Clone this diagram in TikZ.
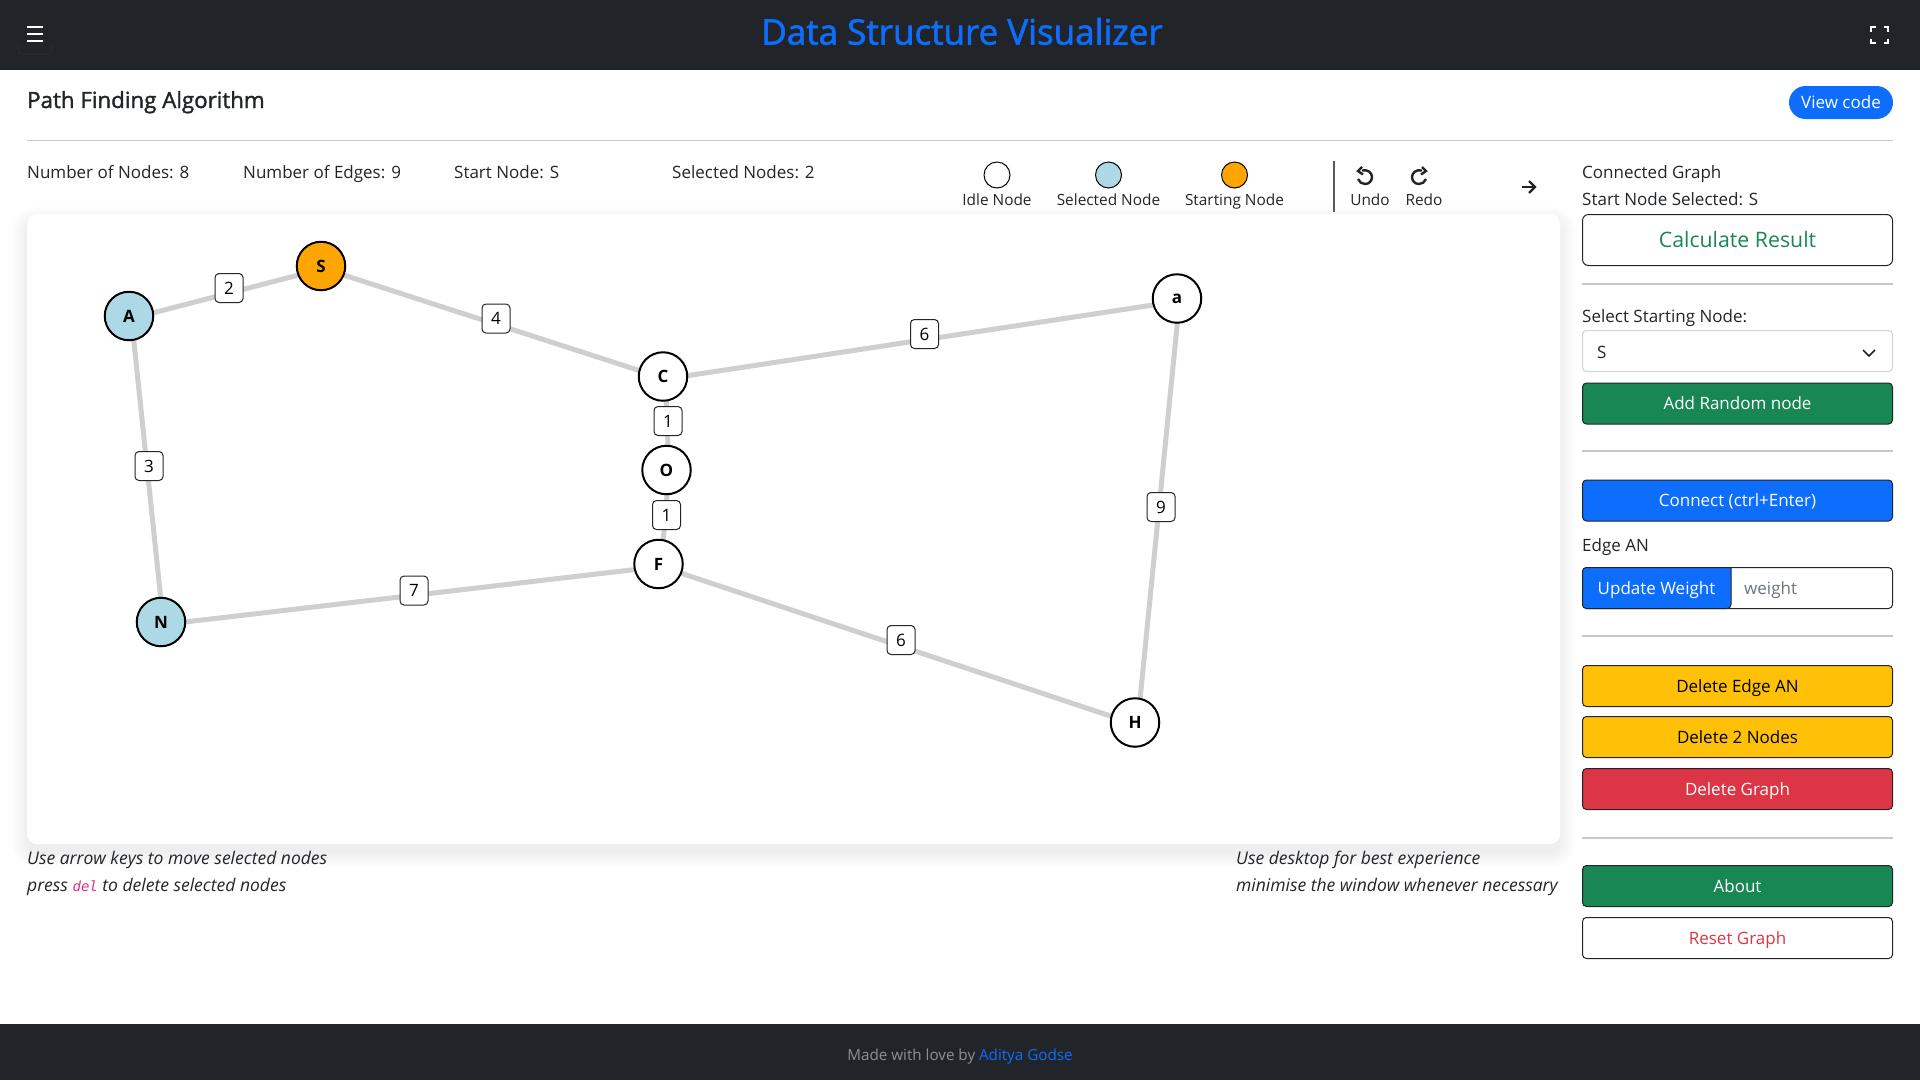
\documentclass[tikz,border=0pt]{standalone}
\usepackage{fontspec}
\usetikzlibrary{backgrounds}
\setmainfont{Open Sans}
\setmonofont{DejaVu Sans Mono}
\newfontfamily\medfont[FakeBold=1.6]{Open Sans}
\definecolor{bs_dark}{HTML}{212529}
\definecolor{bs_blue}{HTML}{0D6EFD}
\definecolor{bs_green}{HTML}{198754}
\definecolor{bs_yellow}{HTML}{FFC107}
\definecolor{bs_red}{HTML}{DC3545}
\definecolor{bs_pink}{HTML}{D63384}
\definecolor{bs_gray}{HTML}{6C757D}
\definecolor{bs_line}{HTML}{CED4DA}
\definecolor{hr_gray}{HTML}{C8C8C8}
\definecolor{edge_gray}{HTML}{CFCFCF}
\definecolor{sel_blue}{HTML}{ADD8E6}
\definecolor{start_org}{HTML}{FFA500}
\definecolor{nav_edge}{HTML}{1C3040}
\tikzset{
  txt/.style = {inner sep=0pt, text=bs_dark, text height=12, text depth=0,
    font=\fontsize{17}{20}\selectfont},
  txt_l/.style = {txt, anchor=west},
  txt_s/.style = {txt, text height=10.5, font=\fontsize{15.4}{18}\selectfont},
  txt_i/.style = {txt_l, font=\fontsize{17.5}{20}\selectfont\itshape},
  hrule/.style = {hr_gray, line width=1.2},
  btn/.style = {txt, rectangle, rounded corners=4, draw=bs_dark, line width=1,
    minimum width=310, minimum height=41},
  btn_g/.style = {btn, fill=bs_green, text=white},
  btn_y/.style = {btn, fill=bs_yellow, text=black},
  btn_r/.style = {btn, fill=bs_red, text=white},
  btn_b/.style = {btn, fill=bs_blue, text=white},
  gnode/.style = {circle, draw=black, line width=2, minimum size=48.5, inner sep=0pt,
    font=\fontsize{17}{20}\selectfont\bfseries},
  gnode_i/.style = {gnode, fill=white},% idle
  gnode_s/.style = {gnode, fill=sel_blue},% selected
  gnode_o/.style = {gnode, fill=start_org},% start
  gedge/.style = {draw=edge_gray, line width=5, transform canvas={shift={(2.5,2.5)}}},
  gwt/.style = {rectangle, rounded corners=4, draw=black!85, line width=1, fill=white,
    minimum width=28, minimum height=29, inner sep=0pt, font=\fontsize{17}{20}\selectfont},
  lgd/.style = {circle, draw=black, line width=1, minimum size=26, inner sep=0pt},
  icon/.style = {draw=bs_dark, line width=2.4}
}
\begin{document}
\begin{tikzpicture}[x=1pt,y=-1pt]
\useasboundingbox (0,0) rectangle (1920,1080);
% bars
\fill[bs_dark] (0,0) rectangle (1920,70);
\fill[bs_dark] (0,1024) rectangle (1920,1080);
\draw[nav_edge, line width=1, rounded corners=4] (18,44) -- (18,54) -- (52,54) -- (52,44);
\foreach \yy in {27,34,41}
  \draw[white, line width=1.6] (27,\yy) -- (43,\yy);
\foreach \xs/\ys in {1/1,-1/1,1/-1,-1/-1}
  \draw[white, line width=2] (1879.5-8.5*\xs,35-3.5*\ys) -- (1879.5-8.5*\xs,35-8*\ys) -- (1879.5-4*\xs,35-8*\ys);
\node (title) at (962,32) [txt, text height=25, text=bs_blue, font=\fontsize{35}{42}\selectfont\medfont] {Data Structure Visualizer};
\node (heading) at (27,100) [txt_l, text height=16, font=\fontsize{22.3}{26}\selectfont\medfont] {Path Finding Algorithm};
\node (viewcode) at (1841,102.5) [txt, rounded corners=16.5, fill=bs_blue, text=white, minimum width=104, minimum height=33] {View code};
\draw[hrule] (27,140.5) -- (1893,140.5);
% stats line
\node (n_nodes) at (27,172.5) [txt_l] {Number of Nodes: 8};
\node (n_edges) at (243,172.5) [txt_l] {Number of Edges: 9};
\node (n_start) at (454,172.5) [txt_l] {Start Node: S};
\node (n_sel) at (672,172.5) [txt_l] {Selected Nodes: 2};
% legend
\node (lg_idle) at (997,175) [lgd, fill=white] {};
\node (lg_sel) at (1108.5,175) [lgd, fill=sel_blue] {};
\node (lg_start) at (1234.5,175) [lgd, fill=start_org] {};
\node (lg_idle_t) at (997,200.5) [txt_s] {Idle Node};
\node (lg_sel_t) at (1108.5,200.5) [txt_s] {Selected Node};
\node (lg_start_t) at (1234.5,200.5) [txt_s] {Starting Node};
\draw[black!65, line width=1.2] (1334,161) -- (1334,212);
% undo redo icons
\draw[icon] (1362,170.5) .. controls (1368,169) and (1372,173) .. (1372,177) .. controls (1372,181) and (1369,184) .. (1365,184) .. controls (1362,184) and (1359,182) .. (1358,179);
\draw[icon] (1362,167) -- (1358,171) -- (1363,174.5);
\draw[icon] (1422,170.5) .. controls (1416,169) and (1412,173) .. (1412,177) .. controls (1412,181) and (1415,184) .. (1419,184) .. controls (1422,184) and (1425,182) .. (1426,179);
\draw[icon] (1422,167) -- (1426,171) -- (1421,174.5);
\node (undo) at (1370,200.5) [txt_s] {Undo};
\node (redo) at (1424,200.5) [txt_s] {Redo};
\draw[icon] (1522,187) -- (1535,187);
\draw[icon] (1529,181) -- (1535,187) -- (1529,193);
% graph
\node (S) at (321,266) [gnode_o] {S};
\node (A) at (129,316) [gnode_s] {A};
\node (C) at (663,376.5) [gnode_i] {C};
\node (a) at (1177,298.5) [gnode_i] {a};
\node (O) at (666.5,470) [gnode_i] {O};
\node (F) at (658.5,564) [gnode_i] {F};
\node (N) at (161,622) [gnode_s] {N};
\node (H) at (1135,722.5) [gnode_i] {H};
\begin{scope}[on background layer]
% canvas card
\foreach \ss in {0,...,16}
  \fill[black, opacity=0.004, rounded corners=10+\ss] (27-\ss,222-\ss) rectangle (1560+\ss,852+\ss);
\fill[white, rounded corners=10] (27,214) rectangle (1560,844);
\draw[gedge] (A.center) -- (S.center);
\draw[gedge] (S.center) -- (C.center);
\draw[gedge] (C.center) -- (a.center);
\draw[gedge] (A.center) -- (N.center);
\draw[gedge] (C.center) -- (O.center);
\draw[gedge] (O.center) -- (F.center);
\draw[gedge] (N.center) -- (F.center);
\draw[gedge] (F.center) -- (H.center);
\draw[gedge] (a.center) -- (H.center);
\end{scope}
\node (w_AS) at (229,288) [gwt] {2};
\node (w_SC) at (496,318.5) [gwt] {4};
\node (w_Ca) at (924.5,334) [gwt] {6};
\node (w_AN) at (149,466) [gwt] {3};
\node (w_CO) at (668,421) [gwt] {1};
\node (w_OF) at (666.5,515) [gwt] {1};
\node (w_NF) at (414,590.5) [gwt] {7};
\node (w_FH) at (901,640) [gwt] {6};
\node (w_aH) at (1161,507) [gwt] {9};
% side panel
\node (conn) at (1582,172.5) [txt_l] {Connected Graph};
\node (startsel) at (1582,199.5) [txt_l] {Start Node Selected: S};
\node (calc) at (1737.5,240) [btn, minimum height=51, rounded corners=6, text height=15, text=bs_green, font=\fontsize{21.3}{25}\selectfont] {Calculate Result};
\draw[hrule] (1582,284) -- (1893,284);
\node (sel_lb) at (1582,316) [txt_l] {Select Starting Node:};
\node (sel_box) at (1737.5,351) [btn, draw=bs_line] {};
\node (sel_val) at (1597,352) [txt_l] {S};
\draw[bs_dark, line width=1.5] (1863,350) -- (1869,356) -- (1875,350);
\node (add) at (1737.5,403.5) [btn_g] {Add Random node};
\draw[hrule] (1582,451) -- (1893,451);
\node (connect) at (1737.5,500.5) [btn_b] {Connect (ctrl+Enter)};
\node (edge_lb) at (1582,545) [txt_l] {Edge AN};
\draw[bs_dark, fill=white, line width=1, rounded corners=4] (1582.5,567.5) rectangle (1892.5,608.5);
\draw[bs_dark, fill=bs_blue, line width=1] (1731,567.5) {[rounded corners=4] -- (1582.5,567.5) -- (1582.5,608.5) -- (1731,608.5)} -- cycle;
\node (upd) at (1656.5,588) [txt, text=white] {Update Weight};
\node (wgt) at (1744,588) [txt_l, text=bs_gray] {weight};
\draw[hrule] (1582,636) -- (1893,636);
\node (del_e) at (1737.5,686) [btn_y] {Delete Edge AN};
\node (del_n) at (1737.5,737) [btn_y] {Delete 2 Nodes};
\node (del_g) at (1737.5,789) [btn_r] {Delete Graph};
\draw[hrule] (1582,838) -- (1893,838);
\node (about) at (1737.5,886) [btn_g] {About};
\node (reset) at (1737.5,938) [btn, text=bs_red] {Reset Graph};
% notes
\node (nt_1) at (27,858) [txt_i] {Use arrow keys to move selected nodes};
\node (nt_2) at (27,885) [txt_i] {press {\ttfamily\fontsize{14}{17}\selectfont\color{bs_pink}del} to delete selected nodes};
\node (nt_3) at (1236,858) [txt_i] {Use desktop for best experience};
\node (nt_4) at (1236,885) [txt_i] {minimise the window whenever necessary};
\node (foot) at (960,1054) [txt, text=bs_gray!80!white, font=\fontsize{15.2}{18}\selectfont] {Made with love by \textcolor{bs_blue}{Aditya Godse}};
\end{tikzpicture}
\end{document}
